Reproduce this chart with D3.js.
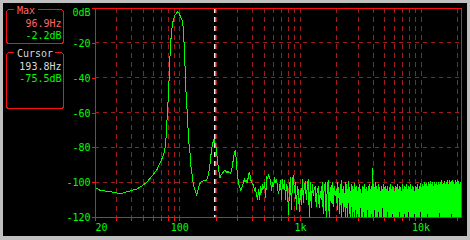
<!DOCTYPE html>
<html><head><meta charset="utf-8">
<script src="https://cdn.jsdelivr.net/npm/d3@7"></script>
<style>html,body{margin:0;padding:0;background:#c0c0c0;overflow:hidden}svg{display:block}</style>
</head><body><svg id="c" width="470" height="240"></svg>
<script>
// ---- axis / tick data ----
const yTicks = [0, -20, -40, -60, -80, -100, -120];
const yTickLabels = ["0dB", "-20", "-40", "-60", "-80", "-100", "-120"];
const xLabelValues = [20, 100, 1000, 10000];
const xLabelTexts = ["20", "100", "1k", "10k"];
const xGrid = [30, 40, 50, 60, 70, 80, 90, 100, 200, 300, 400, 500, 600, 700, 800, 900,
  1000, 2000, 3000, 4000, 5000, 6000, 7000, 8000, 9000, 10000, 20000];
const xDomain = [20, 22050];
const yDomain = [-120, 0];

// ---- markers ----
const maxFreq = 96.9, maxDb = -2.2;
const cursorFreq = 193.8, cursorDb = -75.5;

// ---- spectrum: smooth low-frequency part (Hz, dB) ----
const lowFreq = [20, 22.0, 26.7, 31.0, 34.3, 39.1, 44.3, 48.9, 53.7, 58.9, 65.0, 70.1, 74.0,
  77.0, 78.3, 79.5, 81.1, 82.6, 83.7, 84.9, 85.9, 87.5, 89.2, 92.1, 96.9, 99.4, 102.7, 105.9,
  108, 110, 112.2, 114.3, 117.4, 118.7, 122.7, 125, 128.2, 130.7, 134.9, 139.4, 143.8, 148.5,
  151.4, 158.1, 165.6, 169.7, 174, 178.7, 182.2, 185.7, 189.3, 193.8, 200.4, 204.2, 208.1,
  212.1, 217.4, 221.6, 227.2, 233.4, 239.3, 244, 248.6, 254.9, 259.8, 264.9, 272, 277.2,
  282.6, 285.8, 291.3, 296.9, 300.9, 305, 308.5, 314.5, 323, 329.2, 335.5, 341.9, 345.9,
  350.6, 357.3, 364.3, 371.3, 378.4, 383.5, 388.2, 395.6, 403.1, 410.9, 418.8, 426.8, 435,
  440.7, 446.6, 451.9];
const lowDb = [-103, -104.7, -105.4, -106.4, -106.2, -105, -104, -102.2, -100.1, -96.8, -93, -88.2, -84.4,
  -79, -70, -61, -51, -38, -28, -20, -14.5, -10.3, -6.6, -4.0, -2.2, -2.9, -5.2, -7.5,
  -11.5, -23, -38.5, -52.8, -63, -74.8, -83.4, -91.1, -96.9, -101.6, -104.5, -107.4, -103.5, -100.7,
  -99.7, -99.3, -99.3, -98.4, -95.9, -91.1, -85.4, -80.6, -77.7, -75.5, -78.7, -83.4, -89.2,
  -93, -97.8, -95.9, -94.9, -94, -93, -94, -94.3, -94, -94.5, -94.9, -93, -89.2,
  -85.4, -83.4, -81.5, -87.3, -93, -96.9, -99.7, -102.6, -104.5, -103.5, -101.6, -99.7, -97.8,
  -99.7, -98.8, -100.7, -97.8, -94.9, -94.5, -97.8, -99.7, -100.7, -101.6, -104.5, -103.5, -106.4,
  -108.3, -110.2, -104.5];

// ---- spectrum: noise 455 Hz .. 1957 Hz (log-spaced samples, dB) ----
const noiseARange = [455, 1957];
const noiseADb = [-104, -110, -102, -106, -101, -104, -100, -109, -97, -98,
  -96, -97.5, -99, -105, -100, -103, -97, -100.5, -98, -103,
  -107, -103, -99, -110, -98, -104, -99, -110, -101, -103,
  -119, -104, -97, -116, -99, -96, -106, -100, -116, -102,
  -105, -117, -104.5, -113, -98, -112, -101, -100, -110, -102,
  -98, -120, -100, -115, -101, -108, -103, -102.6, -114, -104,
  -103, -115, -105, -110, -100, -118, -102, -101, -120, -104,
  -99, -120, -103, -112, -100, -114, -102, -108];

// ---- spectrum: dense noise 2 kHz .. 22.05 kHz (per column: peak and trough, dB) ----
const noiseBRange = [2000, 22050];
const noiseBTop = [-104, -100, -103, -106, -101, -98.5, -104, -102, -106, -100,
  -101, -104, -99.5, -103, -105, -101, -102, -104, -100.5, -103,
  -102, -105, -103, -101, -104, -106, -102, -103, -101, -104,
  -103, -105, -102, -101, -104, -102, -92, -101, -103, -100,
  -102, -104, -101, -103, -105, -102, -104, -101, -103, -102,
  -104, -102, -105, -103, -101, -104, -102, -103, -105, -102,
  -103, -101, -104, -102, -103, -105, -101, -104, -102, -103,
  -101, -104, -102, -103, -101, -104, -102, -103, -105, -102,
  -103, -101, -104, -102, -100.5, -103, -101, -102, -100, -101,
  -100.5, -102, -100, -101, -99.5, -101, -100, -102, -100, -101,
  -100, -101.5, -99.8, -101, -100, -99, -101, -100.5, -99.5, -101,
  -100, -99, -101, -98.5, -100, -99.5, -98.5, -100, -101, -99,
  -100, -98.5, -99.5, -101, -100, -102];
const noiseBBottom = [-112, -116, -109, -118, -113, -120, -110, -117, -114, -120,
  -115, -120, -112, -118, -120, -114, -120, -117, -120, -116,
  -120, -118, -120, -120, -115, -120, -120, -117, -120, -120,
  -120, -116, -120, -120, -120, -118, -120, -120, -116, -120,
  -120, -120, -117, -120, -120, -120, -115, -120, -120, -120,
  -120, -117, -120, -120, -120, -120, -118, -120, -120, -120,
  -120, -120, -120, -117, -120, -120, -120, -120, -118, -120,
  -120, -120, -117, -120, -120, -120, -120, -120, -118, -120,
  -120, -120, -120, -120, -117, -120, -120, -120, -120, -120,
  -120, -118, -120, -120, -120, -120, -120, -120, -120, -120,
  -120, -120, -120, -117, -120, -120, -120, -120, -120, -120,
  -120, -120, -120, -120, -120, -118, -120, -120, -120, -120,
  -120, -120, -120, -120, -120, -120];

// ---- colours ----
const GREEN = "#00ff00", RED = "#ff1010", GRID = "#a01c1c", PINK = "#ff6464", GRAY = "#d8d8d8";
const FONT = "'DejaVu Sans Mono', monospace";

const svg = d3.select("#c");
svg.append("rect").attr("x", 0).attr("y", 0).attr("width", 470).attr("height", 240).attr("fill", "#c0c0c0");
svg.append("rect").attr("x", 3).attr("y", 3).attr("width", 464).attr("height", 233).attr("fill", "#000");

const L = 95, R = 462, T = 8, B = 217;
const x = d3.scaleLog().domain(xDomain).range([L, R]);
const y = d3.scaleLinear().domain(yDomain).range([B, T]);

// grid
const g = svg.append("g").attr("shape-rendering", "crispEdges");
g.selectAll(".hg").data(yTicks.filter(v => v !== 0 && v !== -120)).join("line")
  .attr("x1", L).attr("x2", R).attr("y1", d => y(d)).attr("y2", d => y(d))
  .attr("stroke", GRID).attr("stroke-dasharray", "4,4");
g.selectAll(".vg").data(xGrid).join("line")
  .attr("x1", d => Math.round(x(d)) + 0.5).attr("x2", d => Math.round(x(d)) + 0.5)
  .attr("y1", T).attr("y2", B)
  .attr("stroke", GRID).attr("stroke-dasharray", "5,4");

// cursor line
const cx = Math.round(x(cursorFreq));
g.append("line").attr("x1", cx + 0.5).attr("x2", cx + 0.5).attr("y1", T).attr("y2", B)
  .attr("stroke", "#f0f0f0").attr("stroke-dasharray", "5,4");
g.append("line").attr("x1", cx + 1.5).attr("x2", cx + 1.5).attr("y1", T).attr("y2", B)
  .attr("stroke", "#8c8c8c").attr("stroke-dasharray", "5,4");

// spectrum points
const pts = lowFreq.map((f, i) => [f, lowDb[i]]);
const nA = noiseADb.length;
const la0 = Math.log10(noiseARange[0]), la1 = Math.log10(noiseARange[1]);
noiseADb.forEach((v, i) => pts.push([Math.pow(10, la0 + (la1 - la0) * i / (nA - 1)), v]));
const nB = noiseBTop.length * 2;
const lb0 = Math.log10(noiseBRange[0]), lb1 = Math.log10(noiseBRange[1]);
noiseBTop.forEach((v, i) => {
  pts.push([Math.pow(10, lb0 + (lb1 - lb0) * (2 * i) / (nB - 1)), v]);
  pts.push([Math.pow(10, lb0 + (lb1 - lb0) * (2 * i + 1) / (nB - 1)), noiseBBottom[i]]);
});

svg.append("clipPath").attr("id", "clip").append("rect")
  .attr("x", L).attr("y", T).attr("width", R - L).attr("height", B - T);
const line = d3.line().x(d => x(d[0])).y(d => y(Math.max(d[1], -121)));
svg.append("path").datum(pts).attr("d", line).attr("clip-path", "url(#clip)")
  .attr("fill", "none").attr("stroke", GREEN).attr("stroke-width", 1)
  .attr("shape-rendering", "crispEdges");

// frame
svg.append("rect").attr("x", L + 0.5).attr("y", T + 0.5).attr("width", R - L - 1).attr("height", B - T)
  .attr("fill", "none").attr("stroke", RED).attr("shape-rendering", "crispEdges");

// y axis
const yAxis = svg.append("g").attr("transform", `translate(${L + 0.5},0)`)
  .call(d3.axisLeft(y).tickValues(yTicks).tickSize(4).tickPadding(1)
    .tickFormat((d, i) => yTickLabels[i]));
yAxis.select(".domain").remove();
yAxis.selectAll("line").attr("stroke", RED).attr("shape-rendering", "crispEdges");
yAxis.selectAll("text").attr("fill", GREEN).style("font-family", FONT).style("font-size", "10px")
  .attr("dy", (d) => d === 0 ? "0.72em" : "0.36em");

// x axis
const xAxis = svg.append("g").attr("transform", `translate(0,${B + 0.5})`)
  .call(d3.axisBottom(x).tickValues([20].concat(xGrid)).tickSize(3).tickPadding(3)
    .tickFormat(d => { const k = xLabelValues.indexOf(d); return k >= 0 ? xLabelTexts[k] : ""; }));
xAxis.select(".domain").remove();
xAxis.selectAll("line").attr("stroke", RED).attr("shape-rendering", "crispEdges");
xAxis.selectAll("text").attr("fill", GREEN).style("font-family", FONT).style("font-size", "10px")
  .attr("text-anchor", d => d === 20 ? "start" : "middle");

// info boxes
function box(y0, h, title, titleColor, gapW, lines) {
  const bg = svg.append("g");
  bg.append("rect").attr("x", 6.5).attr("y", y0 + 0.5).attr("width", 57).attr("height", h)
    .attr("rx", 3).attr("fill", "none").attr("stroke", RED).attr("shape-rendering", "crispEdges");
  bg.append("rect").attr("x", 14).attr("y", y0 - 2).attr("width", gapW).attr("height", 5).attr("fill", "#000");
  bg.append("text").attr("x", 17).attr("y", y0 + 4.5).text(title).attr("fill", titleColor)
    .style("font-family", FONT).style("font-size", "10px");
  lines.forEach(l => bg.append("text").attr("x", 61.5).attr("y", l.y).attr("text-anchor", "end")
    .text(l.t).attr("fill", l.c).style("font-family", FONT).style("font-size", "10px"));
}
box(9, 34, "Max", PINK, 24, [
  { t: maxFreq.toFixed(1) + "Hz", c: PINK, y: 27 },
  { t: maxDb.toFixed(1) + "dB", c: GREEN, y: 39 }]);
box(52, 56, "Cursor", GRAY, 41, [
  { t: cursorFreq.toFixed(1) + "Hz", c: GRAY, y: 70 },
  { t: cursorDb.toFixed(1) + "dB", c: GREEN, y: 82 }]);
</script>
</body></html>
